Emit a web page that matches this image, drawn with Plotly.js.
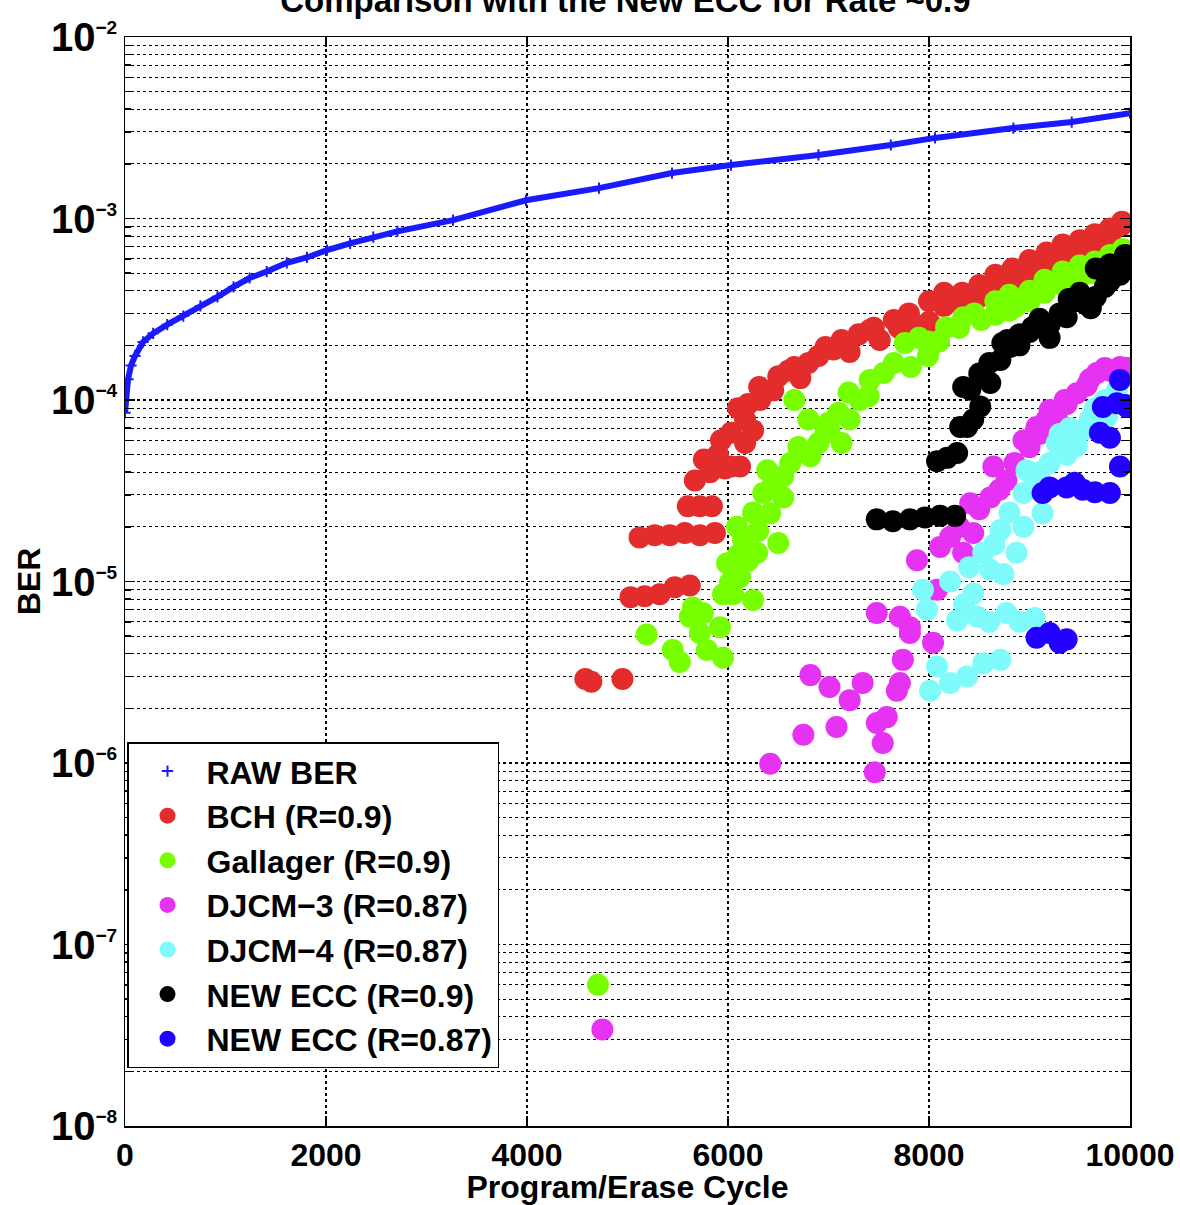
<!DOCTYPE html>
<html>
<head>
<meta charset="utf-8">
<script src="https://cdn.plot.ly/plotly-3.0.1.min.js"></script>
<style>html,body{margin:0;padding:0;background:#fff;}#chart{width:1180px;height:1205px;}</style>
</head>
<body>
<div id="chart"></div>
<script>
// ---- data ----
const rawX = [0,10,30,60,100,180,280,420,580,750,920,1080,1240,1410,1610,1810,2010,2240,2470,2710,3264,3990,4716,5443,6030,6900,7620,8060,8840,9420,10000];
const rawY = [8.5e-5,1.0e-4,1.3e-4,1.55e-4,1.75e-4,2.09e-4,2.33e-4,2.6e-4,2.9e-4,3.3e-4,3.7e-4,4.2e-4,4.7e-4,5.1e-4,5.7e-4,6.1e-4,6.7e-4,7.3e-4,7.9e-4,8.5e-4,9.8e-4,1.26e-3,1.47e-3,1.78e-3,1.97e-3,2.24e-3,2.54e-3,2.78e-3,3.15e-3,3.4e-3,3.8e-3];

const bchX = [4580,4640,4950, 5030,5170,5320,5470,5620, 5120,5270,5420,5570,5720,5870, 5600,5720,5840, 5670,5820,5970,6120, 5760,6030,5930,6170,6030,6170, 5850,5900,6100,6200,6250,
  6310,6450,6320,6660,6800,6720,6970,7130,7210,7410,7650,7510, 6500,6600,6900,7050,7300,7450,7700,7800,
  7860,8000,8000,8150,8150,8330,8330,8500,8500,8660,8660,8830,8830,9000,9000,9170,9170,9330,9330,9500,9500,9650,9650,9800,9800,9920,9920];
const bchY = [2.9e-6,2.8e-6,2.9e-6, 8.2e-6,8.3e-6,8.5e-6,9.3e-6,9.5e-6, 1.75e-5,1.8e-5,1.8e-5,1.85e-5,1.8e-5,1.85e-5, 2.6e-5,2.6e-5,2.6e-5, 3.6e-5,4.0e-5,4.2e-5,4.3e-5, 4.7e-5,4.3e-5,6.0e-5,5.8e-5,6.6e-5,7.8e-5, 4.5e-5,5.0e-5,9.0e-5,9.5e-5,6.8e-5,
  1.18e-4,1.13e-4,1.0e-4,1.52e-4,1.6e-4,1.32e-4,1.96e-4,2.14e-4,1.84e-4,2.43e-4,2.76e-4,2.14e-4, 1.35e-4,1.45e-4,1.75e-4,1.9e-4,2.3e-4,2.5e-4,2.5e-4,3.0e-4,
  2.6e-4,3.5e-4,2.7e-4,3.3e-4,3.9e-4,3.9e-4,3.3e-4,4.3e-4,3.7e-4,4.9e-4,4.1e-4,5.3e-4,4.5e-4,5.9e-4,5.0e-4,6.5e-4,5.6e-4,7.2e-4,6.2e-4,7.6e-4,6.7e-4,8.2e-4,7.2e-4,8.8e-4,7.9e-4,9.6e-4,9.2e-4];

const galX = [4706, 5190,5450,5520,5620,5720,5790,5920,5950,5750,5650,5950,6250,6020,5990,6120,6290,6090,6500,6150,6420,6350,6550,6390,6620,6820,7010,7210,
  6050,6100,6200,6250,6300,6450,6550,6700,6900,7000,7100,
  6660,6800,7130,6970,7310,7410,7550,7760,7820,8000,8170,8340,8520,8860, 7200,7400,7650,7900,8100,8300,8450,
  7990,7990,8660,8660,8800,8800,9150,9150,9330,9330,9500,9500,9650,9650,9800,9800,9930,9930,9000,9000];
const galY = [6.0e-8, 5.1e-6,4.2e-6,3.6e-6,6.4e-6,5.2e-6,4.2e-6,5.6e-6,3.8e-6,6.7e-6,7.2e-6,8.5e-6,7.9e-6,9.9e-6,1.26e-5,1.06e-5,1.44e-5,2.0e-5,1.63e-5,1.69e-5,2.38e-5,3.07e-5,2.9e-5,4.1e-5,4.5e-5,4.9e-5,6.8e-5,7.8e-5,
  8.5e-6,1.4e-5,1.3e-5,2.4e-5,1.9e-5,3.5e-5,3.8e-5,5.5e-5,5.8e-5,7.5e-5,8.5e-5,
  1.0e-4,7.8e-5,5.8e-5,6.6e-5,1.0e-4,1.29e-4,1.41e-4,2.06e-4,1.52e-4,1.89e-4,2.52e-4,2.86e-4,2.76e-4,3.25e-4, 1.1e-4,1.05e-4,1.6e-4,2.2e-4,2.1e-4,2.5e-4,3.0e-4,
  2.1e-4,1.75e-4,3.5e-4,2.95e-4,3.8e-4,3.1e-4,4.6e-4,3.9e-4,5.1e-4,4.3e-4,5.5e-4,4.7e-4,5.8e-4,5.0e-4,6.3e-4,5.5e-4,6.8e-4,6.2e-4,4.0e-4,3.5e-4];

const dj3X = [4750, 6420,6750,6820,7010,7080,7210,7340,7480,7540,7460,7580,7680,7740,7810,7480,7710,8040,7880,8080,7810,8110,8210,8440,8340,8410,8610,8640,8770,8940,9070,9270,9470,9670,9900,9800,9570,9370,9170,7710,
  8300,8500,8700,8850,9000,9100,9200,9350,9600,9750,9980];
const dj3Y = [3.4e-8, 9.9e-7,1.43e-6,3.05e-6,2.62e-6,1.58e-6,2.22e-6,2.76e-6,1.66e-6,1.29e-6,8.9e-7,1.79e-6,2.5e-6,3.7e-6,5.2e-6,6.7e-6,6.4e-6,4.6e-6,1.31e-5,9.0e-6,5.6e-6,1.55e-5,1.76e-5,1.85e-5,1.44e-5,2.7e-5,2.9e-5,4.3e-5,3.6e-5,6.0e-5,7.1e-5,8.1e-5,1.09e-4,1.41e-4,1.52e-4,1.45e-4,1.2e-4,9.5e-5,7.8e-5,2.76e-6,
  2.0e-5,2.5e-5,3.2e-5,4.5e-5,5.5e-5,6.5e-5,8.8e-5,1.0e-4,1.3e-4,1.5e-4,1.5e-4];

const dj4X = [7940,7980,8080,8210,8380,8540,8710,8280,8480,8770,8210,8440,8610,8540,8740,8870,8710,8940,9130,8940,8970,9270,9470,9530,9770,9870,9370,9200,9050,8010,
  9300,9400,9600,9650,9750,9100,9050,8800,8650,8400,8350,8600,8900];
const dj4Y = [9.0e-6,7.0e-6,3.4e-6,2.76e-6,3.0e-6,3.55e-6,3.7e-6,6.1e-6,6.4e-6,6.7e-6,1.0e-5,8.6e-6,1.16e-5,1.44e-5,1.1e-5,1.44e-5,1.92e-5,2.0e-5,2.38e-5,3.07e-5,4.1e-5,5.8e-5,5.6e-5,6.8e-5,8.1e-5,1.14e-4,5.0e-5,4.5e-5,6.3e-6,2.5e-6,
  6.5e-5,7.0e-5,7.8e-5,9.0e-5,1.0e-4,4.0e-5,3.4e-5,2.4e-5,1.6e-5,1.2e-5,7.5e-6,6.0e-6,6.0e-6];

const ecc9X = [7480,7640,7810,7960,8110,8260, 8080,8180,8280, 8310,8440,8510,8410,8610,8710,8810,8340,8380,8780,9030,9200,9370,9610, 8730,9000,9390,9660,9660,9930,9930,9800,9800,
  8500,8600,8900,8900,9100,9200,9300,9450,9500,9550,9750,9750,9900,9950];
const ecc9Y = [2.2e-5,2.15e-5,2.2e-5,2.25e-5,2.3e-5,2.3e-5, 4.6e-5,4.8e-5,5.1e-5, 7.1e-5,7.8e-5,9.2e-5,1.14e-4,1.24e-4,1.66e-4,1.96e-4,1.18e-4,7.1e-5,2.14e-4,2.52e-4,2.2e-4,2.86e-4,3.2e-4, 2.06e-4,2.37e-4,3.6e-4,5.3e-4,3.7e-4,5.9e-4,5.5e-4,5.6e-4,4.5e-4,
  1.4e-4,1.6e-4,2.3e-4,2.0e-4,2.8e-4,2.6e-4,3.0e-4,3.5e-4,3.9e-4,3.4e-4,4.2e-4,5.0e-4,4.9e-4,6.3e-4];

const ecc87X = [9070,9200,9370,9300, 9130,9200,9370,9530,9650,9800,9450, 9900, 9700,9800, 9730,9870,9970,9950, 9900];
const ecc87Y = [4.9e-6,5.2e-6,4.8e-6,4.6e-6, 3.07e-5,3.3e-5,3.3e-5,3.2e-5,3.1e-5,3.07e-5,3.5e-5, 4.3e-5, 6.6e-5,6.2e-5, 9.15e-5,9.6e-5,9.15e-5,9.4e-5, 1.29e-4];

const seriesNames = ['RAW BER','BCH (R=0.9)','Gallager (R=0.9)','DJCM\u22123 (R=0.87)','DJCM\u22124 (R=0.87)','NEW ECC (R=0.9)','NEW ECC (R=0.87)'];
const xTickVals = [0,2000,4000,6000,8000,10000];
const xTickText = ['0','2000','4000','6000','8000','10000'];
const yExponents = [-8,-7,-6,-5,-4,-3,-2];

// ---- styling ----
const FONT = 'Liberation Sans, Arial, Helvetica, sans-serif';
const MS = 22;
function dots(x, y, name, color) {
  return {x: x, y: y, name: name, type: 'scatter', mode: 'markers',
    marker: {symbol: 'circle', size: MS, color: color, line: {width: 0}}};
}
const traces = [
  {x: rawX, y: rawY, type: 'scatter', mode: 'lines', line: {color: '#1a1aff', width: 6}, showlegend: false, hoverinfo: 'skip'},
  {x: rawX, y: rawY, name: seriesNames[0], type: 'scatter', mode: 'markers',
    marker: {symbol: 'cross-thin-open', size: 8, color: '#1a1aff', line: {width: 2, color: '#1a1aff'}}},
  dots(bchX, bchY, seriesNames[1], '#e32d2d'),
  dots(galX, galY, seriesNames[2], '#77ff00'),
  dots(dj3X, dj3Y, seriesNames[3], '#e632f3'),
  dots(dj4X, dj4Y, seriesNames[4], '#80fbfb'),
  dots(ecc9X, ecc9Y, seriesNames[5], '#000000'),
  dots(ecc87X, ecc87Y, seriesNames[6], '#2200ff')
];

// smaller superscripts for the power-of-ten labels
const alias = {};
yExponents.forEach(function (p) {
  const pretty = '10<sup><span style="font-size:19px">\u2212' + Math.abs(p) + '</span></sup>';
  alias['10<sup>\u2212' + Math.abs(p) + '</sup>'] = pretty;
});

const tf = {family: FONT, size: 32, color: '#000', weight: 'bold'};
const layout = {
  width: 1180, height: 1205,
  margin: {l: 125, r: 50, t: 37, b: 79},
  paper_bgcolor: '#ffffff', plot_bgcolor: '#ffffff',
  font: tf,
  title: {text: 'Comparison with the New ECC for Rate ~0.9', x: 0.53, xref: 'container', y: 1.0, yref: 'container', yanchor: 'middle',
    font: {family: FONT, size: 33, color: '#000', weight: 'bold'}},
  showlegend: true,
  legend: {x: 0.002, y: 0.053, xanchor: 'left', yanchor: 'bottom', bgcolor: '#ffffff', bordercolor: '#000', borderwidth: 1.5,
    font: tf, itemwidth: 68, tracegroupgap: 0},
  xaxis: {
    type: 'linear', range: [0, 10000], tickvals: xTickVals, ticktext: xTickText,
    showline: true, linecolor: '#000', linewidth: 1.5, mirror: 'ticks',
    ticks: 'inside', ticklen: 10, tickcolor: '#000', tickwidth: 1.5,
    showgrid: true, gridcolor: '#000', griddash: 'dot', gridwidth: 1.5,
    zeroline: false, tickfont: tf,
    title: {text: 'Program/Erase Cycle', font: tf, standoff: 6}
  },
  yaxis: {
    type: 'log', range: [-8, -2], dtick: 1, exponentformat: 'power', showexponent: 'all', labelalias: alias,
    showline: true, linecolor: '#000', linewidth: 1.5, mirror: 'ticks',
    ticks: 'inside', ticklen: 10, tickcolor: '#000', tickwidth: 1.5,
    showgrid: true, gridcolor: '#000', griddash: 'dot', gridwidth: 1.5,
    minor: {dtick: 'D1', ticks: 'inside', ticklen: 6, tickcolor: '#000', showgrid: true, gridcolor: '#000', griddash: 'dot', gridwidth: 1},
    zeroline: false, tickfont: tf,
    title: {text: 'BER', font: tf, standoff: 0}
  }
};

Plotly.newPlot('chart', traces, layout, {displayModeBar: false, staticPlot: true});
</script>
</body>
</html>
